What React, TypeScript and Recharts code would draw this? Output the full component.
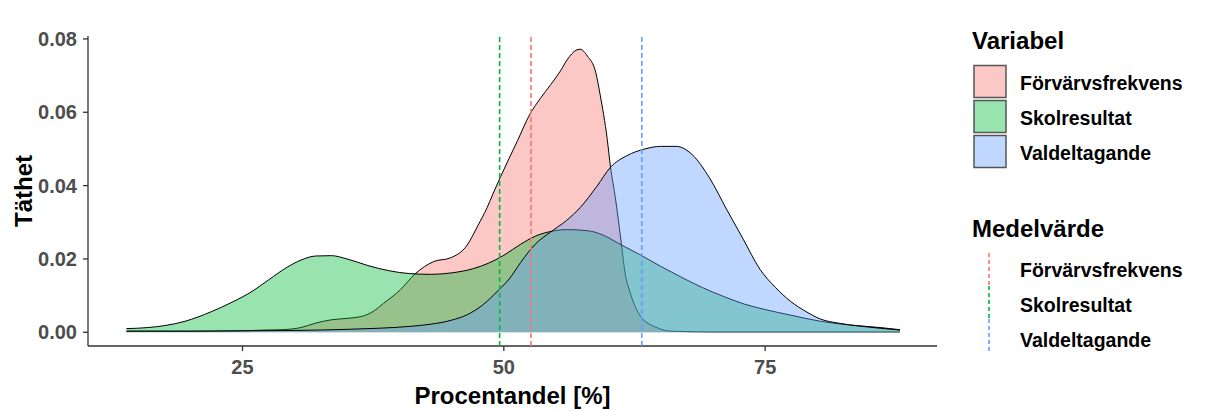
import React from "react"
import { ComposedChart, Area, XAxis, YAxis, ReferenceLine } from "recharts"

// density estimates: [procentandel, täthet]
const forvarvsfrekvens: [number, number][] = [
  [13.9, 0.0003], [18, 0.0003], [22, 0.0003], [25, 0.0004], [27, 0.0006], [28.7, 0.0007],
  [30.6, 0.0013], [32, 0.0025], [33.5, 0.0034], [35, 0.0038], [36.5, 0.0044], [37.5, 0.0057],
  [38.5, 0.0079], [40.1, 0.0116], [41.5, 0.0159], [43.3, 0.0193], [44.9, 0.0203], [46.5, 0.0238],
  [47.5, 0.029], [48.4, 0.034], [49.0, 0.038], [49.7, 0.0425], [51.3, 0.0522], [52.5, 0.0595],
  [53.5, 0.0638], [54.5, 0.0676], [55.4, 0.0712], [56.1, 0.0745], [56.9, 0.0769], [57.3, 0.0772],
  [58.0, 0.0753], [58.8, 0.0708], [59.2, 0.065], [59.9, 0.0525], [60.2, 0.0452], [60.7, 0.0361],
  [61.2, 0.0252], [61.6, 0.0162], [62.1, 0.0107], [63.1, 0.0043], [64.7, 0.0012], [66, 0.0003],
  [70, 0.0001], [80, 0.0001], [87.9, 0.0001],
]

const skolresultat: [number, number][] = [
  [13.9, 0.001], [16, 0.0013], [17.5, 0.0018], [19.5, 0.003], [22, 0.0056], [24, 0.0082],
  [26, 0.0113], [27.5, 0.0143], [29.3, 0.0178], [30.6, 0.0197], [32, 0.0208], [33.5, 0.0209],
  [35, 0.02], [37, 0.0182], [39, 0.0168], [41, 0.016], [43, 0.0158], [45, 0.0162], [47, 0.0173],
  [48.5, 0.0188], [50, 0.021], [51.6, 0.024], [53, 0.0262], [54.5, 0.0275], [56, 0.028],
  [58, 0.0277], [59.5, 0.0265], [61, 0.0242], [63, 0.0212], [65, 0.018], [67, 0.015],
  [69, 0.0122], [71, 0.0098], [73, 0.0077], [75, 0.0062], [77.4, 0.0047], [80.3, 0.003],
  [83, 0.002], [86, 0.0013], [87.9, 0.0007],
]

const valdeltagande: [number, number][] = [
  [13.9, 0.0003], [20, 0.0003], [25, 0.0004], [30, 0.0005], [35, 0.0008], [38, 0.0011],
  [41, 0.0016], [43, 0.0022], [45, 0.0033], [46.5, 0.0048], [48, 0.0075], [49.5, 0.0115],
  [50.5, 0.0145], [51.6, 0.019], [53, 0.024], [54.5, 0.0274], [56, 0.0305], [57.3, 0.034],
  [58.9, 0.0398], [60.2, 0.045], [61.8, 0.0482], [63.5, 0.05], [65, 0.0507], [66.5, 0.0507],
  [68, 0.0485], [69.7, 0.042], [71.3, 0.0336], [72.9, 0.0254], [74.5, 0.0172], [76, 0.0122],
  [77.4, 0.0085], [79, 0.0055], [80.3, 0.0036], [82, 0.0025], [84, 0.0017], [86, 0.0011],
  [87.9, 0.0006],
]

const variables = ["Förvärvsfrekvens", "Skolresultat", "Valdeltagande"]
const keys = ["forvarv", "skol", "val"]
const colors = ["#F8766D", "#00BA38", "#619CFF"]
const means = [52.6, 49.6, 63.2]
const xTicks = [25, 50, 75]
const yTicks = [0, 0.02, 0.04, 0.06, 0.08]

// merge the three series into one table sorted on x
function buildTable() {
  const rows = new Map<number, any>()
  const add = (pts: [number, number][], key: string) => {
    pts.forEach(([x, y]) => {
      const r = rows.get(x) || { x }
      r[key] = y
      rows.set(x, r)
    })
  }
  add(forvarvsfrekvens, keys[0])
  add(skolresultat, keys[1])
  add(valdeltagande, keys[2])
  return Array.from(rows.values()).sort((a, b) => a.x - b.x)
}

const data = buildTable()
const font = "'Liberation Sans', Arial, sans-serif"
const tickStyle = { fill: "#4D4D4D", fontSize: 20, fontWeight: 700, fontFamily: font }

function Legends() {
  const textStyle = { fontFamily: font, fontWeight: 700, fill: "#000" }
  return (
    <svg width={1218} height={411} style={{ position: "absolute", left: 0, top: 0, pointerEvents: "none" }}>
      <text x={972} y={49} fontSize={24} {...textStyle}>Variabel</text>
      {variables.map((v, i) => (
        <g key={v}>
          <rect x={974} y={65.5 + i * 35} width={32} height={32} fill={colors[i]} fillOpacity={0.4} stroke="#555" strokeWidth={1.5} />
          <text x={1020} y={90 + i * 35} fontSize={19.5} {...textStyle}>{v}</text>
        </g>
      ))}
      <text x={972} y={237} fontSize={24} {...textStyle}>Medelvärde</text>
      {variables.map((v, i) => (
        <g key={"m" + v}>
          <line x1={989} x2={989} y1={253 + i * 33} y2={285 + i * 33} stroke={colors[i]} strokeWidth={1.6} strokeDasharray="4 3" />
          <text x={1020} y={277 + i * 35} fontSize={19.5} {...textStyle}>{v}</text>
        </g>
      ))}
    </svg>
  )
}

export default function App() {
  return (
    <div style={{ position: "absolute", left: 0, top: 0, width: 1218, height: 411, background: "#fff" }}>
      <ComposedChart width={1218} height={411} data={data} margin={{ top: 36, right: 281, bottom: 0, left: 0 }}>
        <XAxis
          dataKey="x"
          type="number"
          domain={[10.22, 91.44]}
          ticks={xTicks}
          allowDataOverflow
          height={65}
          tick={tickStyle}
          tickSize={5}
          tickMargin={9}
          axisLine={{ stroke: "#333", strokeWidth: 1.3 }}
          tickLine={{ stroke: "#333", strokeWidth: 1.3 }}
          label={{
            value: "Procentandel [%]",
            position: "insideBottom",
            offset: 7,
            style: { fill: "#000", fontSize: 24, fontWeight: 700, fontFamily: font },
          }}
        />
        <YAxis
          type="number"
          domain={[-0.00374, 0.0808]}
          ticks={yTicks}
          allowDataOverflow
          width={88}
          tick={tickStyle}
          tickFormatter={(v: number) => v.toFixed(2)}
          tickSize={5}
          tickMargin={6}
          axisLine={{ stroke: "#333", strokeWidth: 1.3 }}
          tickLine={{ stroke: "#333", strokeWidth: 1.3 }}
          label={{
            content: (props: any) => {
              const vb = props.viewBox
              const cx = 32
              const cy = vb.y + vb.height / 2
              return (
                <text x={cx} y={cy} transform={`rotate(-90 ${cx} ${cy})`} textAnchor="middle"
                  style={{ fill: "#000", fontSize: 24, fontWeight: 700, fontFamily: font }}>
                  Täthet
                </text>
              )
            },
          }}
        />
        {keys.map((k, i) => (
          <Area
            key={k}
            dataKey={k}
            name={variables[i]}
            type="monotone"
            baseValue={0}
            connectNulls
            stroke="#000"
            strokeWidth={1}
            fill={colors[i]}
            fillOpacity={0.4}
            dot={false}
            activeDot={false}
            isAnimationActive={false}
          />
        ))}
        {means.map((m, i) => (
          <ReferenceLine key={"ref" + i} x={m} stroke={colors[i]} strokeWidth={1.6} strokeDasharray="5 3" zIndex={1000} />
        ))}
      </ComposedChart>
      <Legends />
    </div>
  )
}
